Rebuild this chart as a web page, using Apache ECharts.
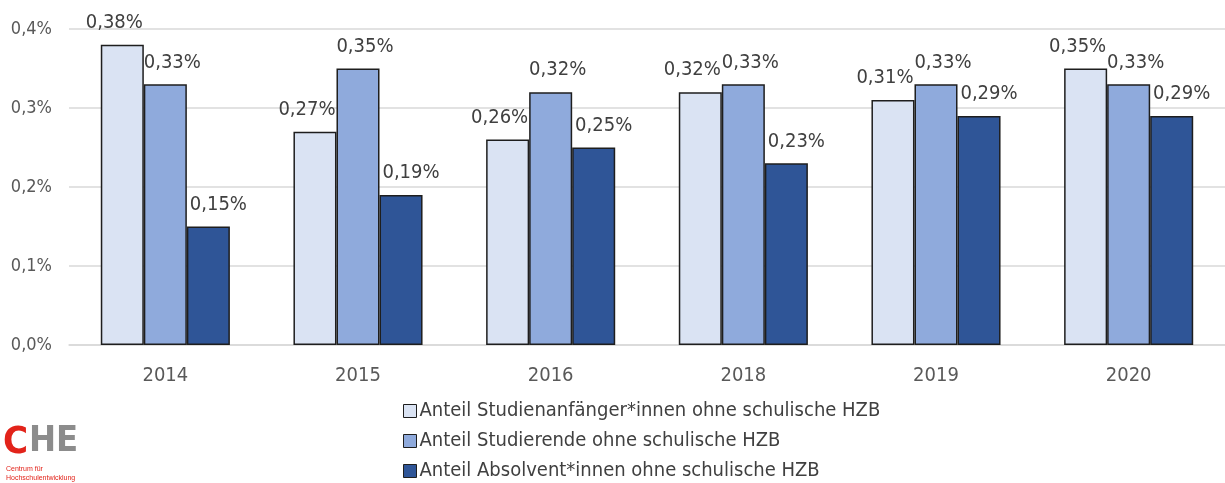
<!DOCTYPE html>
<html>
<head>
<meta charset="utf-8">
<script src="https://cdn.jsdelivr.net/npm/echarts@6/dist/echarts.min.js"></script>
<style>
  html, body { margin: 0; padding: 0; background: #fff; }
  #chart { width: 1225px; height: 483px; }
</style>
</head>
<body>
<div id="chart"></div>
<script>
// Daten
const years = ['2014', '2015', '2016', '2018', '2019', '2020'];
const seriesNames = [
  'Anteil Studienanfänger*innen ohne schulische HZB',
  'Anteil Studierende ohne schulische HZB',
  'Anteil Absolvent*innen ohne schulische HZB'
];
const anfaenger = [0.38, 0.27, 0.26, 0.32, 0.31, 0.35];
const studierende = [0.33, 0.35, 0.32, 0.33, 0.33, 0.33];
const absolventen = [0.15, 0.19, 0.25, 0.23, 0.29, 0.29];
const yTicks = [0, 0.1, 0.2, 0.3, 0.4];

const FONT = '"DejaVu Sans Condensed", Roboto, sans-serif';
const colors = ['#DAE3F3', '#8FAADC', '#2F5597'];
const labelShift = [-8, 7, 10];

const fmt = v => v.toFixed(2).replace('.', ',') + '%';

const chart = echarts.init(document.getElementById('chart'), null, { renderer: 'canvas' });

const makeSeries = (name, data, i) => ({
  name: name,
  type: 'bar',
  data: data,
  barGap: '0%',
  barCategoryGap: '33%',
  itemStyle: { color: colors[i], borderColor: '#1e1e1e', borderWidth: 1.5 },
  label: {
    show: true,
    position: 'top',
    distance: 12,
    offset: [labelShift[i], 0],
    formatter: p => fmt(p.value),
    color: '#404040',
    fontSize: 20,
    fontFamily: FONT
  }
});

chart.setOption({
  animation: false,
  color: colors,
  grid: { left: 69, right: 0, top: 29, bottom: 138, containLabel: false },
  xAxis: {
    type: 'category',
    data: years,
    axisTick: { show: false },
    axisLine: { lineStyle: { color: '#d9d9d9', width: 1.5 } },
    axisLabel: { color: '#595959', fontSize: 20, fontFamily: FONT, margin: 21 }
  },
  yAxis: {
    type: 'value',
    min: yTicks[0],
    max: yTicks[yTicks.length - 1],
    interval: 0.1,
    axisLine: { show: false },
    axisTick: { show: false },
    splitLine: { lineStyle: { color: '#d9d9d9', width: 1.5 } },
    axisLabel: {
      color: '#595959', fontSize: 18, fontFamily: FONT, margin: 17,
      formatter: v => v.toFixed(1).replace('.', ',') + '%'
    }
  },
  legend: {
    orient: 'vertical',
    left: 403,
    top: 401,
    height: 82,
    padding: 0,
    itemGap: 10,
    itemWidth: 13,
    itemHeight: 13,
    icon: 'rect',
    itemStyle: { borderColor: '#1e1e1e', borderWidth: 1 },
    textStyle: { color: '#404040', fontSize: 20, fontFamily: FONT, padding: [0, 0, 0, -2] },
    data: seriesNames
  },
  series: [
    makeSeries(seriesNames[0], anfaenger, 0),
    makeSeries(seriesNames[1], studierende, 1),
    makeSeries(seriesNames[2], absolventen, 2)
  ],
  graphic: [
    { type: 'text', left: 3, top: 424, style: { text: 'C', fill: '#e2231a', font: 'bold 38px "DejaVu Sans Condensed", sans-serif' } },
    { type: 'text', left: 29, top: 424, style: { text: 'HE', fill: '#8c8c8c', font: 'bold 36px "DejaVu Sans Condensed", sans-serif' } },
    { type: 'text', left: 6, top: 466, style: { text: 'Centrum für', fill: '#e2231a', font: '7px sans-serif' } },
    { type: 'text', left: 6, top: 475, style: { text: 'Hochschulentwicklung', fill: '#e2231a', font: '7px sans-serif' } }
  ]
});
</script>
</body>
</html>
